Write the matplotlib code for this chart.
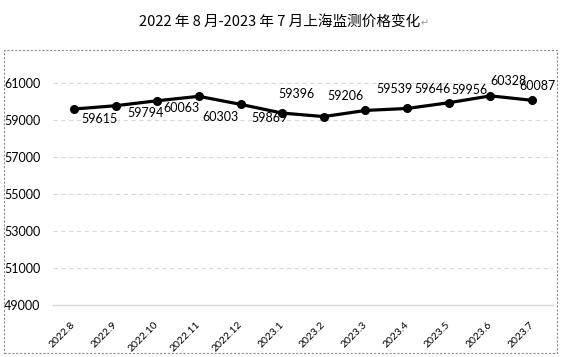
import numpy as np
import matplotlib
matplotlib.use("Agg")
import matplotlib.pyplot as plt
from matplotlib.patches import Rectangle

months = ["2022.8", "2022.9", "2022.10", "2022.11", "2022.12", "2023.1",
          "2023.2", "2023.3", "2023.4", "2023.5", "2023.6", "2023.7"]
prices = [59615, 59794, 60063, 60303, 59869, 59396,
          59206, 59539, 59646, 59956, 60328, 60087]
yticks = [49000, 51000, 53000, 55000, 57000, 59000, 61000]

# label offsets (pixels, dx right / dy up) as placed in the original
lab_off = [(26, -10), (30, -7), (24, -7), (22, -21), (29, -14), (14, 19),
           (22, 21), (29, 21), (25, 19), (21, 13), (18, 15), (5, 14)]

W, H = 562, 357
fig = plt.figure(figsize=(W / 100, H / 100), dpi=100)
num_font = "Lato"

# dashed chart border
fig.patches.append(Rectangle((4 / W, 1 - 353 / H), 553 / W, 303 / H,
                             transform=fig.transFigure, fill=False,
                             ec="#8c8c8c", lw=0.8, ls=(0, (2, 1.5))))

fig.text(280 / W, 1 - 22 / H, "2022 年 8 月-2023 年 7 月上海监测价格变化",
         ha="center", va="center", fontsize=10.5,
         family=["Noto Sans CJK SC", "DejaVu Sans"])
fig.text(421 / W, 1 - 23 / H, "↵", ha="left", va="center", fontsize=7,
         color="#999999", family=["DejaVu Sans"])

ax = fig.add_axes([53 / W, 1 - 305 / H, 500 / W, 240 / H])
x = np.arange(len(months))
ax.plot(x, prices, color="black", lw=2.3, marker="o", ms=5.5, zorder=3)

for i, v in enumerate(prices):
    dx, dy = lab_off[i]
    ax.annotate(str(v), (x[i], v), xytext=(dx * 0.72, dy * 0.72),
                textcoords="offset points", ha="center", va="center",
                fontsize=9, family=num_font, color="black")

ax.set_xlim(-0.5, len(months) - 0.5)
ax.set_ylim(49000, 62000)
ax.set_yticks(yticks)
ax.set_yticklabels([str(t) for t in yticks], family=num_font, fontsize=9)
ax.set_xticks(x)
ax.set_xticklabels(months, rotation=45, ha="right", va="center",
                   rotation_mode="anchor", family=num_font, fontsize=7.5)
ax.tick_params(axis="y", length=0, pad=9)
ax.tick_params(axis="x", length=0, pad=13)

for t in yticks[1:]:
    ax.axhline(t, color="#d9d9d9", lw=0.8, ls=(0, (4, 3)), zorder=1)
for s in ["top", "right", "left"]:
    ax.spines[s].set_visible(False)
ax.spines["bottom"].set_color("#d9d9d9")
ax.spines["bottom"].set_linewidth(1)

fig.savefig("out.png", dpi=100)
